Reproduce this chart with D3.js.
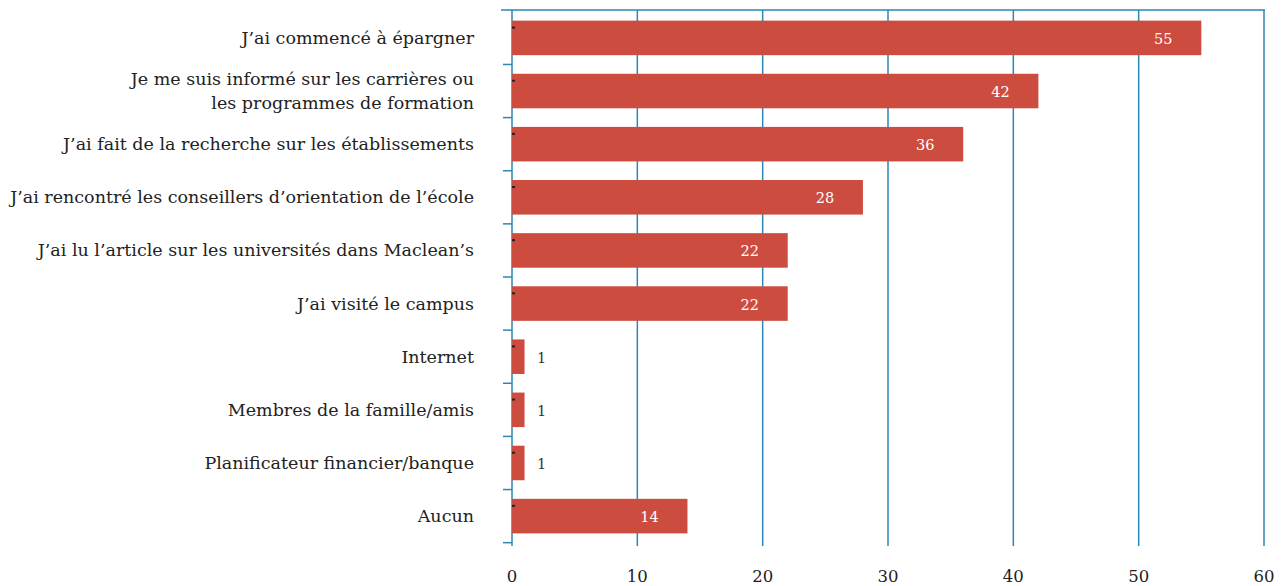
<!DOCTYPE html>
<html>
<head>
<meta charset="utf-8">
<script src="https://cdn.jsdelivr.net/npm/d3@7"></script>
<style>
    body { margin: 0; background: #fff; }
    text { font-family: "DejaVu Serif", "Liberation Serif", serif; }
</style>
</head>
<body>
<svg id="chart" width="1284" height="586"></svg>
<script>
const categories = [
    ["J’ai commencé à épargner"],
    ["Je me suis informé sur les carrières ou", "les programmes de formation"],
    ["J’ai fait de la recherche sur les établissements"],
    ["J’ai rencontré les conseillers d’orientation de l’école"],
    ["J’ai lu l’article sur les universités dans Maclean’s"],
    ["J’ai visité le campus"],
    ["Internet"],
    ["Membres de la famille/amis"],
    ["Planificateur financier/banque"],
    ["Aucun"]
];
const values = [55, 42, 36, 28, 22, 22, 1, 1, 1, 14];
const xTicks = [0, 10, 20, 30, 40, 50, 60];

const gridColour = "#2a87b6";
const barColour = "#cc4c3f";

const svg = d3.select("#chart");
const margin = { top: 10, left: 512, right: 20, bottom: 40 };
const width = 1284 - margin.left - margin.right;
const height = 586 - margin.top - margin.bottom;

const g = svg.append("g")
             .attr("transform", "translate(" + margin.left + "," + margin.top + ")");

const x = d3.scaleLinear().domain([0, 60]).range([0, width]);
const y = d3.scaleBand()
            .domain(d3.range(categories.length))
            .range([0, 534])
            .paddingInner(0.35)
            .paddingOuter(0.2);

const gap = y.step() - y.bandwidth();

// vertical grid
g.selectAll(".grid")
 .data(xTicks)
 .enter().append("line")
 .attr("class", "grid")
 .attr("x1", d => x(d)).attr("x2", d => x(d))
 .attr("y1", 0).attr("y2", height)
 .attr("stroke", gridColour)
 .attr("stroke-width", 1.5);

// top border
g.append("line")
 .attr("x1", -11).attr("x2", width + 1)
 .attr("y1", 0).attr("y2", 0)
 .attr("stroke", gridColour)
 .attr("stroke-width", 1.5);

// category separators on the y axis
g.selectAll(".ytick")
 .data(d3.range(categories.length))
 .enter().append("line")
 .attr("class", "ytick")
 .attr("x1", -9).attr("x2", 0)
 .attr("y1", d => y(d) + y.bandwidth() + gap / 2)
 .attr("y2", d => y(d) + y.bandwidth() + gap / 2)
 .attr("stroke", gridColour)
 .attr("stroke-width", 1.5);

// bars
g.selectAll(".bar")
 .data(values)
 .enter().append("rect")
 .attr("class", "bar")
 .attr("x", 0)
 .attr("y", (d, i) => y(i))
 .attr("width", d => x(d))
 .attr("height", y.bandwidth())
 .attr("fill", barColour);

// little dark marks at bar start
g.selectAll(".mark")
 .data(values)
 .enter().append("rect")
 .attr("x", 0)
 .attr("y", (d, i) => y(i) + 6)
 .attr("width", 3)
 .attr("height", 2)
 .attr("fill", "#222");

// value labels
g.selectAll(".value")
 .data(values)
 .enter().append("text")
 .attr("class", "value")
 .attr("x", d => d > 5 ? x(d) - 38 : x(d) + 17)
 .attr("y", (d, i) => y(i) + y.bandwidth() / 2 + 6)
 .attr("text-anchor", "middle")
 .style("font-size", "14.5px")
 .style("fill", d => d > 5 ? "#fff" : "#333")
 .text(d => d);

// category labels
const labels = g.selectAll(".label")
 .data(categories)
 .enter().append("text")
 .attr("class", "label")
 .attr("text-anchor", "end")
 .style("font-size", "17.5px")
 .style("fill", "#222")
 .attr("transform", (d, i) => "translate(-38," + (y(i) + y.bandwidth() / 2) + ")");

labels.each((d, i, nodes) => {
    const el = d3.select(nodes[i]);
    const lineHeight = 24;
    const offset = -(d.length - 1) * lineHeight / 2 + 6;
    d.forEach((line, j) => {
        el.append("tspan")
          .attr("x", 0)
          .attr("y", offset + j * lineHeight)
          .text(line);
    });
});

// x axis labels
g.selectAll(".xlabel")
 .data(xTicks)
 .enter().append("text")
 .attr("class", "xlabel")
 .attr("x", d => x(d))
 .attr("y", height + 36)
 .attr("text-anchor", "middle")
 .style("font-size", "16.5px")
 .style("fill", "#222")
 .text(d => d);
</script>
</body>
</html>
